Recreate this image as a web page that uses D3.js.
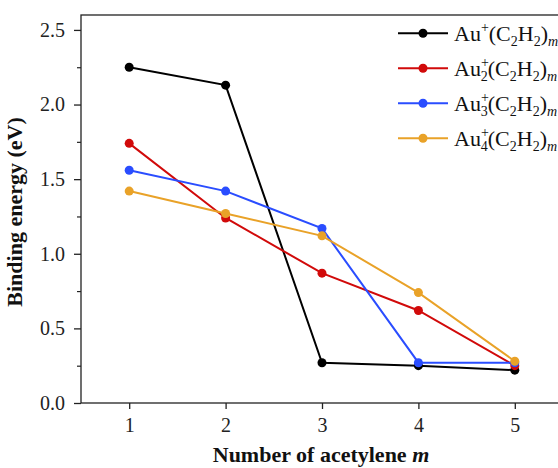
<!DOCTYPE html>
<html>
<head>
<meta charset="utf-8">
<script src="https://cdn.jsdelivr.net/npm/d3@7"></script>
<style>
  body { margin: 0; background: #fff; }
  text { font-family: "Liberation Serif", "Times New Roman", serif; }
</style>
</head>
<body>
<div id="chart"></div>
<script>
  var acetylene = [1, 2, 3, 4, 5]
  var au1 = [2.25, 2.13, 0.27, 0.25, 0.22]
  var au2 = [1.74, 1.24, 0.87, 0.62, 0.25]
  var au3 = [1.56, 1.42, 1.17, 0.27, 0.27]
  var au4 = [1.42, 1.27, 1.12, 0.74, 0.28]
  var yTicks = [0, 0.5, 1.0, 1.5, 2.0, 2.5]

  var seriesList = [
    { n: '', values: au1, color: '#000000' },
    { n: '2', values: au2, color: '#d10a0a' },
    { n: '3', values: au3, color: '#2a4dff' },
    { n: '4', values: au4, color: '#e9a228' }
  ]

  var serif = '"Liberation Serif", "Times New Roman", serif'
  var margin = { left: 81, right: 0, top: 15, bottom: 65 }
  var width = 482
  var height = 468 - margin.top - margin.bottom

  var svg = d3.select('#chart')
    .append('svg')
    .attr('width', 558)
    .attr('height', 468)
    .append('g')
    .attr('transform', `translate(${margin.left},${margin.top})`)

  var x = d3.scaleLinear().domain([0.5, 5.5]).range([0, width])
  var y = d3.scaleLinear().domain([0, 2.6]).range([height, 0])

  // frame
  svg.append('rect')
    .attr('width', width)
    .attr('height', height)
    .attr('fill', 'none')
    .attr('stroke', '#222')
    .attr('stroke-width', 1.3)

  // x axis
  var xAxis = svg.append('g')
    .attr('transform', `translate(0,${height})`)
    .call(d3.axisBottom(x).tickValues(acetylene).tickFormat(d3.format('d')).tickSize(6).tickPadding(9))
  xAxis.attr('font-family', serif)
  xAxis.select('.domain').remove()
  xAxis.selectAll('text').attr('font-size', 20).attr('fill', '#222')
  xAxis.selectAll('line').attr('stroke', '#222').attr('stroke-width', 1.3)

  // y axis, major and minor ticks
  var yMinor = svg.append('g')
    .call(d3.axisLeft(y).tickValues(d3.range(0.25, 2.6, 0.5)).tickFormat('').tickSize(4))
  yMinor.select('.domain').remove()
  yMinor.selectAll('line').attr('stroke', '#222').attr('stroke-width', 1.2)

  var yAxis = svg.append('g')
    .call(d3.axisLeft(y).tickValues(yTicks).tickFormat(d3.format('.1f')).tickSize(7).tickPadding(9))
  yAxis.attr('font-family', serif)
  yAxis.select('.domain').remove()
  yAxis.selectAll('text').attr('font-size', 20).attr('fill', '#222')
  yAxis.selectAll('line').attr('stroke', '#222').attr('stroke-width', 1.3)

  // axis titles
  svg.append('text')
    .attr('transform', `translate(-59,${height / 2 + 3}) rotate(-90)`)
    .attr('text-anchor', 'middle')
    .attr('font-size', 22)
    .attr('font-weight', 'bold')
    .attr('fill', '#111')
    .text('Binding energy (eV)')

  var xt = svg.append('text')
    .attr('x', x(3) - 1)
    .attr('y', height + 59)
    .attr('text-anchor', 'middle')
    .attr('font-size', 22)
    .attr('font-weight', 'bold')
    .attr('fill', '#111')
  xt.append('tspan').text('Number of acetylene ')
  xt.append('tspan').attr('font-style', 'italic').text('m')

  var line = d3.line()
    .x((d, i) => x(acetylene[i]))
    .y(d => y(d))

  seriesList.forEach(s => {
    svg.append('path')
      .attr('d', line(s.values))
      .attr('fill', 'none')
      .attr('stroke', s.color)
      .attr('stroke-width', 2)

    svg.append('g')
      .selectAll('circle')
      .data(s.values)
      .enter().append('circle')
      .attr('cx', (d, i) => x(acetylene[i]))
      .attr('cy', d => y(d))
      .attr('r', 4.5)
      .attr('fill', s.color)
  })

  // legend
  var legend = svg.append('g')
    .attr('transform', `translate(${398 - margin.left},${33.3 - margin.top})`)

  seriesList.forEach((s, i) => {
    var row = legend.append('g').attr('transform', `translate(0,${i * 35})`)
    row.append('line')
      .attr('x1', 0).attr('x2', 50)
      .attr('stroke', s.color).attr('stroke-width', 2)
    row.append('circle')
      .attr('cx', 25).attr('r', 4.5).attr('fill', s.color)

    var t = row.append('text')
      .attr('x', 56)
      .attr('y', 8)
      .attr('font-size', 22)
      .attr('fill', '#111')
    t.append('tspan').text('Au')
    t.append('tspan').attr('font-size', 14).attr('dy', -9).text('+')
    if (s.n) {
      t.append('tspan').attr('font-size', 14).attr('dx', -8).attr('dy', 14).text(s.n)
      t.append('tspan').attr('dy', -5).text('(C')
    } else {
      t.append('tspan').attr('dy', 9).text('(C')
    }
    t.append('tspan').attr('font-size', 14).attr('dy', 5).text('2')
    t.append('tspan').attr('dy', -5).text('H')
    t.append('tspan').attr('font-size', 14).attr('dy', 5).text('2')
    t.append('tspan').attr('dy', -5).text(')')
    t.append('tspan').attr('font-size', 14).attr('font-style', 'italic').attr('dy', 5).text('m')
  })
</script>
</body>
</html>
